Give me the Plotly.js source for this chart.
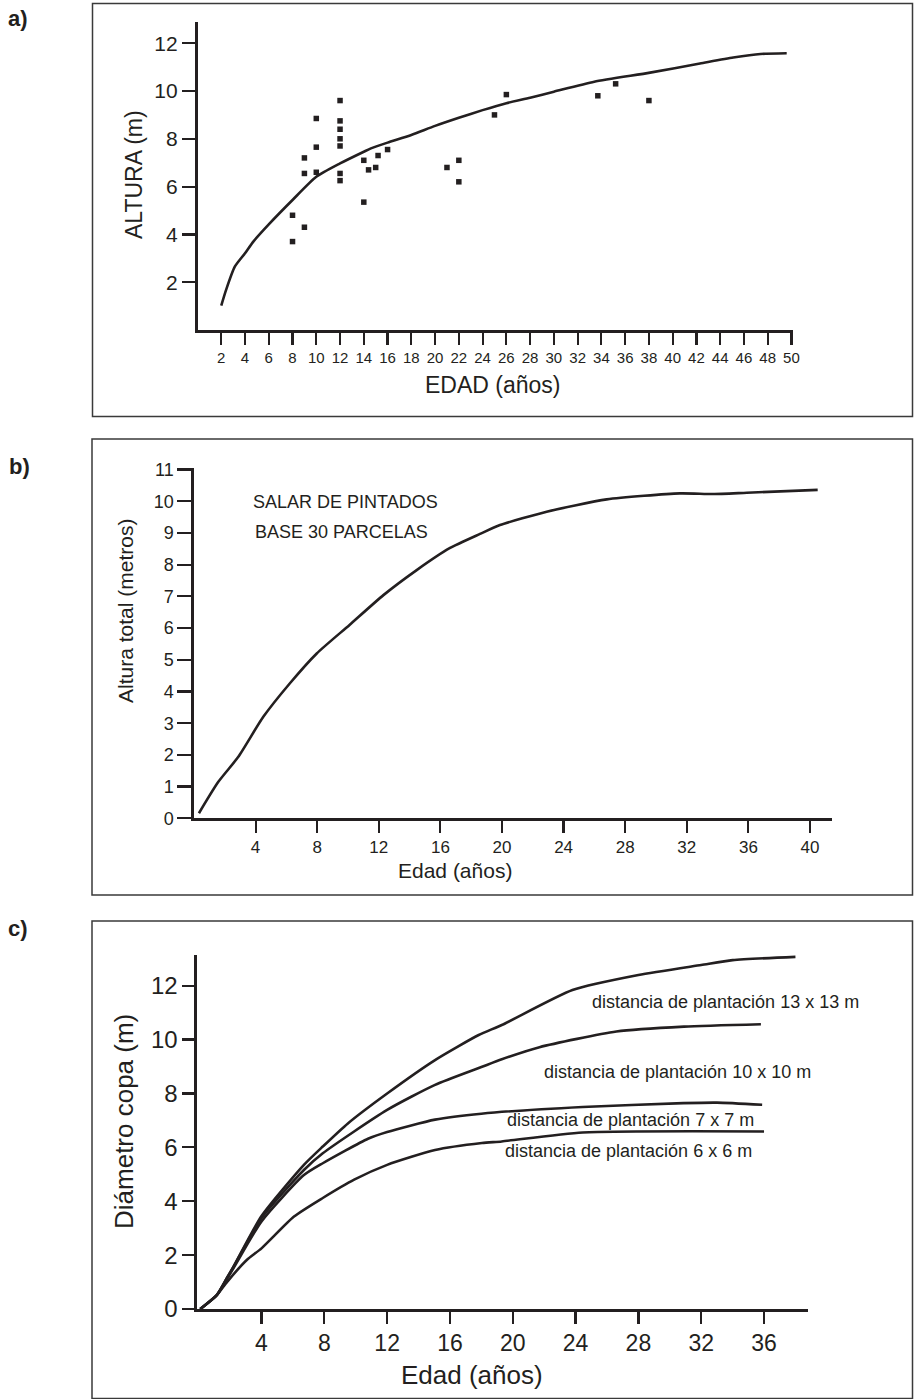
<!DOCTYPE html>
<html>
<head>
<meta charset="utf-8">
<script src="https://cdn.plot.ly/plotly-3.0.1.min.js"></script>
<style>html,body{margin:0;padding:0;background:#fff;}#chart{width:914px;height:1399px;}</style>
</head>
<body>
<div id="chart"></div>
<script>
// ---------- Panel a) data ----------
const aPointsEdad   = [8, 8, 9, 9, 9, 10, 10, 10, 12, 12, 12, 12, 12, 12, 12, 14, 14, 14.4, 15, 15.2, 16, 21, 22, 22, 25, 26, 33.7, 35.2, 38];
const aPointsAltura = [3.7, 4.8, 4.3, 6.55, 7.2, 6.6, 7.65, 8.85, 6.25, 6.55, 7.7, 8.0, 8.4, 8.75, 9.6, 5.35, 7.1, 6.7, 6.8, 7.3, 7.55, 6.8, 6.2, 7.1, 9.0, 9.85, 9.8, 10.3, 9.6];
const aCurveEdad    = [2, 2.4, 3.14, 4, 4.7, 6, 8, 10, 12, 14, 14.6, 16, 18, 20, 22, 24, 26, 28, 30, 33.4, 38.1, 42.3, 45.1, 47.4, 49.6];
const aCurveAltura  = [1.02, 1.67, 2.65, 3.21, 3.7, 4.42, 5.44, 6.41, 6.97, 7.46, 7.6, 7.84, 8.16, 8.54, 8.88, 9.2, 9.49, 9.72, 9.97, 10.39, 10.77, 11.15, 11.4, 11.55, 11.58];
const aXTicks = [2,4,6,8,10,12,14,16,18,20,22,24,26,28,30,32,34,36,38,40,42,44,46,48,50];
const aYTicks = [2,4,6,8,10,12];

// ---------- Panel b) data ----------
const bEdad   = [0.32, 1.58, 2.88, 4.5, 6.23, 7.97, 10.1, 12.3, 14.46, 16.6, 18.57, 19.87, 22.9, 26.8, 31.55, 33.7, 35.9, 40.5];
const bAltura = [0.16, 1.15, 1.94, 3.2, 4.26, 5.2, 6.1, 7.04, 7.83, 8.52, 8.97, 9.25, 9.67, 10.06, 10.25, 10.23, 10.27, 10.36];
const bXTicks = [4,8,12,16,20,24,28,32,36,40];
const bYTicks = [0,1,2,3,4,5,6,7,8,9,10,11];
const bNote = ["SALAR DE PINTADOS", "BASE 30 PARCELAS"];

// ---------- Panel c) data ----------
const cEdad13  = [0.1, 1.16, 1.8, 2.22, 4, 6.7, 7.9, 9.5, 12, 15.05, 17.83, 19.3, 23.8, 28, 32, 34, 38];
const cDiam13  = [0, 0.52, 1.15, 1.57, 3.45, 5.35, 6.03, 6.89, 8.0, 9.24, 10.17, 10.54, 11.84, 12.4, 12.77, 12.95, 13.07];
const cEdad10  = [0.1, 1.16, 1.8, 2.22, 4, 6.7, 7.9, 12, 15.05, 18, 19.3, 21.7, 26.6, 30.9, 35.8];
const cDiam10  = [0, 0.52, 1.15, 1.57, 3.38, 5.16, 5.78, 7.39, 8.32, 8.98, 9.27, 9.72, 10.3, 10.48, 10.57];
const cEdad7   = [0.1, 1.16, 1.8, 2.22, 4, 6.7, 7.9, 10.78, 12, 15.05, 18, 24.45, 30.86, 33, 35.88];
const cDiam7   = [0, 0.52, 1.12, 1.52, 3.25, 4.97, 5.41, 6.32, 6.57, 7.03, 7.25, 7.5, 7.64, 7.66, 7.58];
const cEdad6   = [0.1, 1.16, 1.8, 3.06, 4, 6.07, 7.9, 9.9, 12, 15.05, 18.04, 19.3, 24.45, 36];
const cDiam6   = [0, 0.52, 1.0, 1.82, 2.25, 3.43, 4.12, 4.8, 5.35, 5.9, 6.16, 6.22, 6.55, 6.59];
const cLabels  = ["distancia de plantación 13 x 13 m", "distancia de plantación 10 x 10 m", "distancia de plantación 7 x 7 m", "distancia de plantación 6 x 6 m"];
const cXTicks = [4,8,12,16,20,24,28,32,36];
const cYTicks = [0,2,4,6,8,10,12];

// ---------- layout helpers (pixel -> paper) ----------
const W = 914, H = 1399;
const px = x => x / W;
const py = y => 1 - y / H;
const INK = '#231f20';
const FONT = 'Liberation Sans, Arial, Helvetica, sans-serif';

const lineStyle = {color: INK, width: 2.6, shape: 'spline', smoothing: 0.6};

const traces = [
  {x: aCurveEdad, y: aCurveAltura, xaxis: 'x', yaxis: 'y', mode: 'lines', line: lineStyle},
  {x: aPointsEdad, y: aPointsAltura, xaxis: 'x', yaxis: 'y', mode: 'markers', marker: {symbol: 'square', size: 5.5, color: INK}, cliponaxis: false},
  {x: bEdad, y: bAltura, xaxis: 'x2', yaxis: 'y2', mode: 'lines', line: lineStyle},
  {x: cEdad13, y: cDiam13, xaxis: 'x3', yaxis: 'y3', mode: 'lines', line: lineStyle},
  {x: cEdad10, y: cDiam10, xaxis: 'x3', yaxis: 'y3', mode: 'lines', line: lineStyle},
  {x: cEdad7, y: cDiam7, xaxis: 'x3', yaxis: 'y3', mode: 'lines', line: lineStyle},
  {x: cEdad6, y: cDiam6, xaxis: 'x3', yaxis: 'y3', mode: 'lines', line: lineStyle}
];

function axisBase(extra) {
  return Object.assign({
    showgrid: false, zeroline: false, showline: true, linecolor: INK, linewidth: 2.6,
    ticks: 'outside', tickcolor: INK, tickwidth: 2.2, tickmode: 'array',
    fixedrange: true
  }, extra);
}

const layout = {
  width: W, height: H,
  margin: {l: 0, r: 0, t: 0, b: 0, pad: 0},
  paper_bgcolor: '#fff', plot_bgcolor: 'rgba(0,0,0,0)',
  showlegend: false,
  font: {family: FONT, color: INK},
  // panel a
  xaxis: axisBase({domain: [px(197.5), px(793)], range: [0, 50.13], anchor: 'y',
    tickvals: aXTicks, ticktext: aXTicks.map(String), ticklen: 12,
    tickfont: {size: 15, color: INK}}),
  yaxis: axisBase({domain: [py(330), py(22)], range: [0, 12.887], anchor: 'x',
    tickvals: aYTicks, ticktext: aYTicks.map(String), ticklen: 13,
    tickfont: {size: 21, color: INK}}),
  // panel b
  xaxis2: axisBase({domain: [px(194), px(832)], range: [0, 41.43], anchor: 'y2',
    tickvals: bXTicks, ticktext: bXTicks.map(String), ticklen: 12,
    tickfont: {size: 17, color: INK}}),
  yaxis2: axisBase({domain: [py(818.3), py(468)], range: [0, 11.05], anchor: 'x2',
    tickvals: bYTicks, ticktext: bYTicks.map(String), ticklen: 14,
    tickfont: {size: 18, color: INK}}),
  // panel c
  xaxis3: axisBase({domain: [px(197), px(808)], range: [-0.108, 38.8], anchor: 'y3',
    tickvals: cXTicks, ticktext: cXTicks.map(String), ticklen: 12,
    tickfont: {size: 23, color: INK}}),
  yaxis3: axisBase({domain: [py(1309), py(955)], range: [0, 13.14], anchor: 'x3',
    tickvals: cYTicks, ticktext: cYTicks.map(String), ticklen: 12,
    tickfont: {size: 24, color: INK}}),
  shapes: [
    {type: 'rect', xref: 'paper', yref: 'paper', x0: px(92.5), x1: px(912.5), y0: py(416.5), y1: py(3.5), line: {color: '#3a3a3a', width: 1.5}},
    {type: 'rect', xref: 'paper', yref: 'paper', x0: px(92), x1: px(912.5), y0: py(895), y1: py(439), line: {color: '#3a3a3a', width: 1.5}},
    {type: 'rect', xref: 'paper', yref: 'paper', x0: px(92), x1: px(912.5), y0: py(1398.5), y1: py(921), line: {color: '#3a3a3a', width: 1.5}}
  ],
  annotations: []
};

function note(text, x, y, size, opts) {
  layout.annotations.push(Object.assign({
    text: text, xref: 'paper', yref: 'paper', x: px(x), y: py(y),
    xanchor: 'center', yanchor: 'middle', showarrow: false,
    font: {size: size, color: INK, family: FONT}
  }, opts || {}));
}

// panel labels
note('<b>a)</b>', 18, 18, 22);
note('<b>b)</b>', 19, 467, 22);
note('<b>c)</b>', 18, 928, 22);

// axis titles
note('ALTURA (m)', 134, 175, 23, {textangle: -90});
note('EDAD (años)', 492, 385, 23);
note('Altura total (metros)', 126, 611, 21, {textangle: -90});
note('Edad (años)', 455, 870, 21);
note('Diámetro copa (m)', 124, 1122, 26, {textangle: -90});
note('Edad (años)', 472, 1375, 26);

// panel b note
note(bNote[0], 345, 502, 18);
note(bNote[1], 341, 532, 18);

// panel c curve labels
note(cLabels[0], 725, 1002, 18);
note(cLabels[1], 677, 1072, 18);
note(cLabels[2], 630, 1120, 18);
note(cLabels[3], 628, 1151, 18);

Plotly.newPlot('chart', traces, layout, {staticPlot: true, displayModeBar: false});
</script>
</body>
</html>
